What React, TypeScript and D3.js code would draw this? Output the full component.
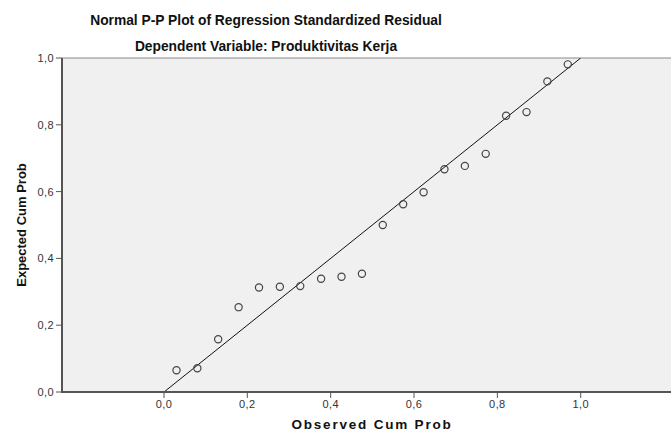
import React from "react";
import * as d3 from "d3";

const observed = [0.030, 0.080, 0.130, 0.179, 0.228, 0.278, 0.327, 0.377, 0.426, 0.475, 0.525, 0.574, 0.623, 0.673, 0.722, 0.772, 0.821, 0.870, 0.920, 0.969];
const expected = [0.065, 0.071, 0.158, 0.254, 0.313, 0.315, 0.317, 0.339, 0.345, 0.354, 0.500, 0.562, 0.598, 0.667, 0.677, 0.713, 0.827, 0.838, 0.930, 0.981];
const tickValues = [0, 0.2, 0.4, 0.6, 0.8, 1.0];
const title1 = "Normal P-P Plot of Regression Standardized Residual";
const title2 = "Dependent Variable: Produktivitas Kerja";
const xTitle = "Observed Cum Prob";
const yTitle = "Expected Cum Prob";

const W = 671, H = 433;
const left = 62, top = 58, bottom = 392, right = 671;

export default function App() {
  const x = d3.scaleLinear().domain([0, 1]).range([164, 580.7]);
  const y = d3.scaleLinear().domain([0, 1]).range([bottom, top]);
  const fmt = (v: number) => v.toFixed(1).replace(".", ",");
  const line = d3.line<[number, number]>().x(d => x(d[0])).y(d => y(d[1]));
  const font = "'Liberation Sans', Arial, sans-serif";
  return (
    <svg width={W} height={H} style={{ position: "absolute", left: 0, top: 0, background: "#fff" }} fontFamily={font}>
      <rect x={0} y={0} width={W} height={H} fill="#fff" />
      <text x={266} y={25} textAnchor="middle" fontSize={13.8} fontWeight="bold" fill="#111">{title1}</text>
      <text x={266} y={51} textAnchor="middle" fontSize={13.8} fontWeight="bold" fill="#111">{title2}</text>
      <rect x={left} y={top} width={right - left} height={bottom - top} fill="#f0f0f0" />
      <line x1={left} x2={right} y1={top} y2={top} stroke="#888" strokeWidth={1} />
      <clipPath id="clip"><rect x={left} y={top} width={right - left} height={bottom - top} /></clipPath>
      <path d={line([[0, 0], [1, 1]]) || ""} stroke="#111" strokeWidth={1} fill="none" clipPath="url(#clip)" />
      {observed.map((o, i) => (
        <circle key={i} cx={x(o)} cy={y(expected[i])} r={3.6} fill="none" stroke="#444" strokeWidth={1.2} />
      ))}
      <line x1={left} x2={left} y1={top} y2={bottom + 1} stroke="#555" strokeWidth={2} />
      <line x1={left - 1} x2={right} y1={bottom} y2={bottom} stroke="#555" strokeWidth={2} />
      {tickValues.map(v => (
        <g key={"y" + v}>
          <line x1={left - 6} x2={left} y1={y(v)} y2={y(v)} stroke="#555" strokeWidth={1} />
          <text x={54} y={y(v) + 4} textAnchor="end" fontSize={11} letterSpacing={0.4} fill="#333">{fmt(v)}</text>
        </g>
      ))}
      {tickValues.map(v => (
        <g key={"x" + v}>
          <line x1={x(v)} x2={x(v)} y1={bottom} y2={bottom + 6} stroke="#555" strokeWidth={1} />
          <text x={x(v)} y={408} textAnchor="middle" fontSize={11} letterSpacing={0.4} fill="#333">{fmt(v)}</text>
        </g>
      ))}
      <text x={372} y={429} textAnchor="middle" fontSize={13.5} fontWeight="bold" letterSpacing={1.8} fill="#111">{xTitle}</text>
      <text transform={`translate(26,225) rotate(-90)`} textAnchor="middle" fontSize={13} fontWeight="bold" fill="#111">{yTitle}</text>
    </svg>
  );
}
